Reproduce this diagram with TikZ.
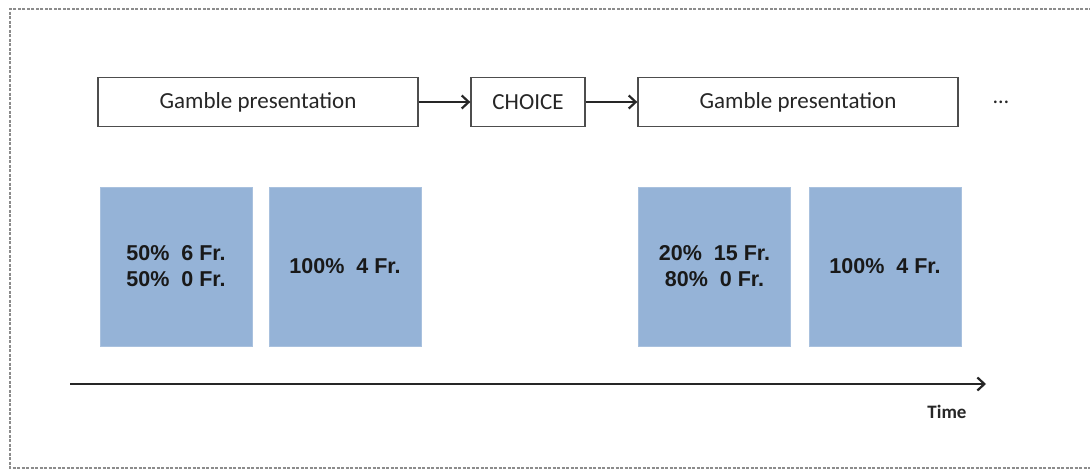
\documentclass[tikz,border=0pt]{standalone}
\usepackage{fontspec}
\setmainfont{Carlito}
\newfontfamily\arialfont{Liberation Sans}
\usetikzlibrary{arrows.meta}
\definecolor{boxblue}{HTML}{95B3D7}
\definecolor{boxedge}{HTML}{A9C1DE}
\definecolor{framegray}{HTML}{8C8C8C}
\definecolor{linegray}{HTML}{4D4D4D}
\tikzset{
  stagebox/.style={draw=linegray, line width=1.3pt, fill=white, minimum height=49pt,
    inner sep=0pt, font=\fontsize{23}{27}\selectfont, text=black!85},
  gamblebox/.style={fill=boxblue, draw=boxedge, line width=0.8pt, minimum width=152pt,
    minimum height=159pt, inner sep=0pt, align=center,
    font=\arialfont\bfseries\fontsize{21.5}{26}\selectfont, text=black!90},
  flowarrow/.style={line width=1.5pt, draw=black!85, -{Straight Barb[length=7pt,width=13pt,line width=2.2pt]}}
}
\begin{document}
\begin{tikzpicture}[x=1pt,y=-1pt]
\useasboundingbox (0,0) rectangle (1090,471);
% dashed frame
\draw[framegray, line width=1.6pt, dash pattern=on 3pt off 1.5pt]
  (1092,9) -- (10,9) -- (10,468) -- (1092,468);
% top row
\node[stagebox, minimum width=320pt] (g1) at (258,102) {Gamble presentation};
\node[stagebox, minimum width=114pt] (ch) at (528,102) {CHOICE};
\node[stagebox, minimum width=320pt] (g2) at (798,102) {Gamble presentation};
\node[font=\fontsize{22}{26}\selectfont, text=black!85] (dots) at (1001,102) {\ldots};
\draw[flowarrow] (g1.east) -- (ch.west);
\draw[flowarrow] (ch.east) -- (g2.west);
% gamble boxes
\node[gamblebox] (a) at (176,266.5) {50\%\ \ 6 Fr.\\50\%\ \ 0 Fr.};
\node[gamblebox] (b) at (345,266.5) {100\%\ \ 4 Fr.};
\node[gamblebox] (c) at (714.5,266.5) {20\%\ \ 15 Fr.\\80\%\ \ 0 Fr.};
\node[gamblebox] (d) at (885,266.5) {100\%\ \ 4 Fr.};
% time axis
\coordinate (t0) at (70,384);
\coordinate (t1) at (986,384);
\draw[flowarrow] (t0) -- (t1);
\node[font=\bfseries\fontsize{19}{22}\selectfont, text=black!85] (time) at (947,412) {Time};
\end{tikzpicture}
\end{document}
